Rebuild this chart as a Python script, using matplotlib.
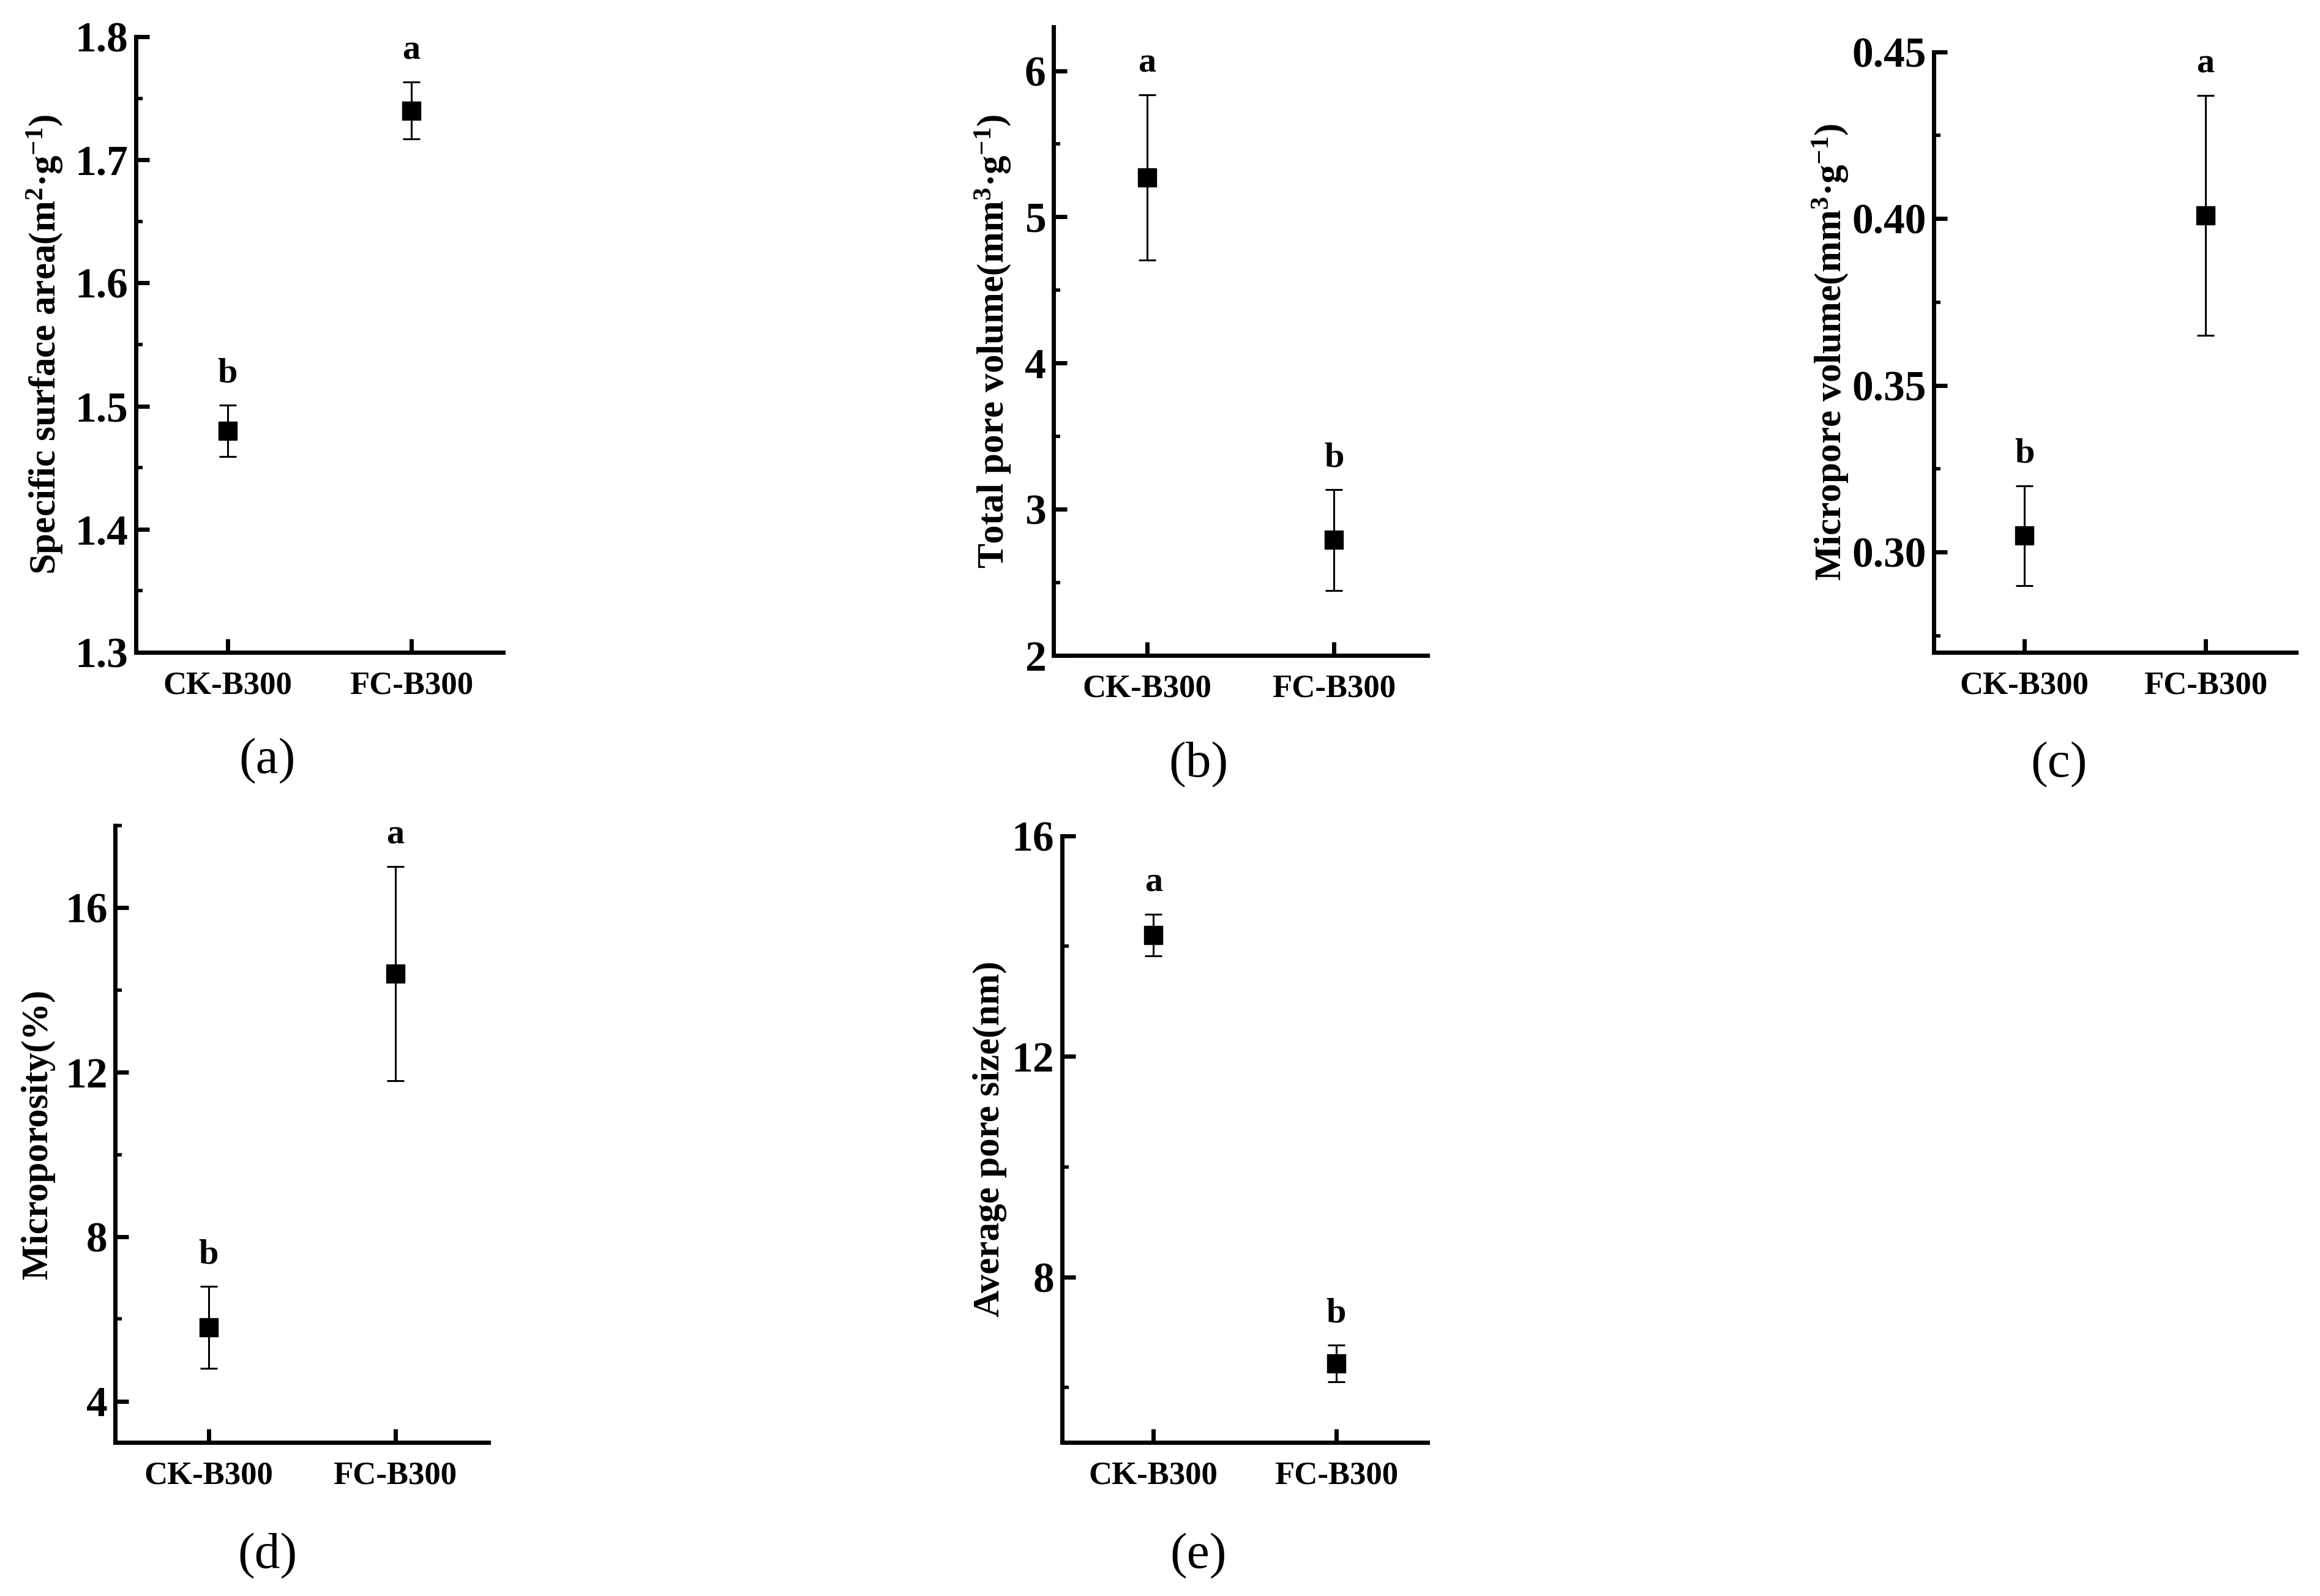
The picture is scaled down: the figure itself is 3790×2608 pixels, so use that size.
import matplotlib
matplotlib.use("Agg")
import matplotlib.pyplot as plt
from matplotlib.ticker import MultipleLocator, FormatStrFormatter

plt.rcParams['font.family'] = ['Liberation Serif', 'DejaVu Serif']
plt.rcParams['mathtext.fontset'] = 'custom'
plt.rcParams['mathtext.rm'] = 'Liberation Serif:bold'
plt.rcParams['mathtext.bf'] = 'Liberation Serif:bold'
plt.rcParams['mathtext.it'] = 'Liberation Serif:bold'

# ---------------- data ----------------
groups = ["CK-B300", "FC-B300"]

ssa_mean = [1.48, 1.74]
ssa_err = [0.021, 0.023]
ssa_sig = ["b", "a"]

tpv_mean = [5.27, 2.79]
tpv_err = [0.565, 0.345]
tpv_sig = ["a", "b"]

mpv_mean = [0.305, 0.401]
mpv_err = [0.015, 0.036]
mpv_sig = ["b", "a"]

mpor_mean = [5.8, 14.4]
mpor_err = [1.0, 2.6]
mpor_sig = ["b", "a"]

aps_mean = [14.2, 6.43]
aps_err = [0.38, 0.33]
aps_sig = ["a", "b"]

# ---------------- figure ----------------
W, H = 3790, 2608
fig = plt.figure(figsize=(W / 100, H / 100), dpi=100)


def box(l, r, t, b):
    return [l / W, 1 - b / H, (r - l) / W, (b - t) / H]


panels = [
    dict(rect=box(222, 822, 60, 1066), mean=ssa_mean, err=ssa_err, sig=ssa_sig,
         ylim=(1.3, 1.8), major=0.1, minor=0.05, fmt="%.1f",
         ylabel="Specific surface area(m$^{2}$·g$^{\\mathrm{-1}}$)",
         labx=-0.195, cap="(a)", capxy=(437, 1244)),
    dict(rect=box(1721, 2332, 44, 1071), mean=tpv_mean, err=tpv_err, sig=tpv_sig,
         ylim=(2, 6.3), major=1, minor=0.5, fmt="%d",
         ylabel="Total pore volume(mm$^{3}$·g$^{\\mathrm{-1}}$)",
         labx=-0.11, cap="(b)", capxy=(1958, 1250)),
    dict(rect=box(3159, 3751, 85, 1066), mean=mpv_mean, err=mpv_err, sig=mpv_sig,
         ylim=(0.27, 0.45), major=0.05, minor=0.025, fmt="%.2f",
         ylabel="Micropore volume(mm$^{3}$·g$^{\\mathrm{-1}}$)",
         labx=-0.231, cap="(c)", capxy=(3364, 1250)),
    dict(rect=box(188, 798, 1349, 2357), mean=mpor_mean, err=mpor_err, sig=mpor_sig,
         ylim=(3, 18), major=4, minor=2, fmt="%d",
         ylabel="Microporosity(%)",
         labx=-0.16, cap="(d)", capxy=(437, 2543)),
    dict(rect=box(1735, 2332, 1366, 2357), mean=aps_mean, err=aps_err, sig=aps_sig,
         ylim=(5, 16), major=4, minor=2, fmt="%d",
         ylabel="Average pore size(nm)",
         labx=-0.151, cap="(e)", capxy=(1958, 2543)),
]

x = list(range(len(groups)))

for p in panels:
    ax = fig.add_axes(p["rect"])
    ax.errorbar(x, p["mean"], yerr=p["err"], fmt="s", color="black",
                markersize=21, elinewidth=2.2, capsize=10, capthick=2.2,
                ecolor="black", zorder=3)
    for xi, m, e, s in zip(x, p["mean"], p["err"], p["sig"]):
        ax.annotate(s, xy=(xi, m + e), xytext=(0, 27), textcoords="offset points",
                    ha="center", va="baseline", fontsize=42, fontweight="bold")
    ax.set_xlim(-0.5, 1.5)
    ax.set_ylim(*p["ylim"])
    ax.set_xticks(x)
    ax.set_xticklabels(groups, fontsize=38, fontweight="bold")
    ax.yaxis.set_major_locator(MultipleLocator(p["major"]))
    ax.yaxis.set_minor_locator(MultipleLocator(p["minor"]))
    ax.yaxis.set_major_formatter(FormatStrFormatter(p["fmt"]))
    for lab in ax.get_yticklabels():
        lab.set_fontsize(50)
        lab.set_fontweight("bold")
    ax.tick_params(axis="y", which="major", direction="in", length=16, width=5, pad=9)
    ax.tick_params(axis="y", which="minor", direction="in", length=8, width=4)
    ax.tick_params(axis="x", which="major", direction="in", length=16, width=5, pad=22)
    ax.tick_params(axis="x", which="minor", bottom=False)
    for side in ("top", "right"):
        ax.spines[side].set_visible(False)
    for side in ("left", "bottom"):
        ax.spines[side].set_linewidth(5)
    ax.set_ylabel(p["ylabel"], fontsize=44, fontweight="bold")
    ax.yaxis.set_label_coords(p["labx"], 0.5)
    fig.text(p["capxy"][0] / W, 1 - p["capxy"][1] / H, p["cap"],
             ha="center", va="center", fontsize=60)

fig.savefig("out.png", dpi=100)
